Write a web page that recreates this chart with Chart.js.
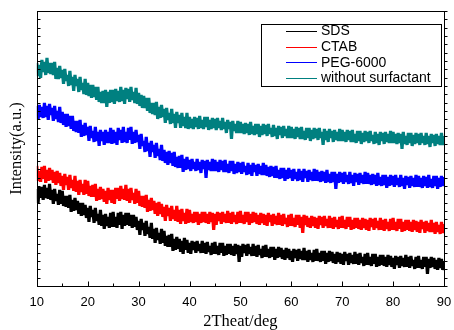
<!DOCTYPE html>
<html>
<head>
<meta charset="utf-8">
<script src="https://cdn.jsdelivr.net/npm/chart.js@4.4.1/dist/chart.umd.min.js"></script>
<style>
  html, body { margin: 0; padding: 0; background: #fff; }
  #wrap { width: 454px; height: 330px; }
</style>
</head>
<body>
<div id="wrap"><canvas id="grafico"></canvas></div>
<script>
// Series labels and colours
const seriesNames = ["SDS", "CTAB", "PEG-6000", "without surfactant"];
const seriesColors = ["#000000", "#ff0000", "#0000ff", "#008080"];

// Intensity (a.u.), one point every 0.25 deg from 10 to 90
const sds = [
  97,83,99,88, 99,86,101,88, 98,87,102,86, 96,82,97,85, 92,81,96,82,
  95,80,90,79, 90,78,91,74, 86,75,88,76, 85,72,83,70, 83,71,81,68,
  78,64,80,69, 76,63,78,65, 72,61,76,60, 71,57,72,60, 69,58,73,59,
  74,59,69,58, 73,61,74,57, 71,60,73,61, 73,60,71,58, 71,59,69,56,
  65,51,67,56, 63,50,65,52, 59,48,63,47, 57,43,58,46, 53,42,57,43,
  55,40,50,39, 51,39,52,35, 47,36,49,37, 47,34,45,32, 48,36,46,33,
  43,32,45,36, 44,33,45,35, 42,33,45,33, 43,32,44,34, 40,31,43,32,
  44,32,40,31, 43,33,43,30, 40,31,42,32, 42,31,40,30, 42,32,41,24,
  40,29,42,33, 41,30,42,32, 39,30,42,30, 40,29,41,31, 37,28,40,29,
  41,29,37,28, 39,29,39,26, 37,28,39,29, 38,27,36,26, 38,28,37,26,
  35,24,37,28, 36,25,37,27, 35,26,38,26, 35,24,36,26, 33,24,36,25,
  37,25,33,24, 35,25,35,22, 33,24,35,25, 34,23,32,22, 34,24,33,22,
  32,21,34,25, 32,21,33,23, 31,22,34,22, 32,21,33,23, 29,20,32,21,
  33,21,29,20, 32,22,32,19, 29,20,31,21, 31,20,29,19, 31,21,30,19,
  28,17,30,21, 29,18,30,20, 28,19,31,19, 29,18,30,20, 26,17,29,18,
  30,18,26,17, 29,19,29,12, 27,18,29,19, 28,17,26,16, 28,18,27,16,
  25
];
const ctab = [
  120,105,115,104, 119,107,120,103, 116,105,118,106, 116,103,114,101, 115,103,113,100,
  110,96,112,101, 109,96,111,98, 106,95,110,94, 105,91,106,94, 102,91,106,92,
  105,90,100,89, 101,89,102,85, 97,86,99,87, 97,84,95,82, 98,86,96,83,
  96,82,98,87, 98,85,100,87, 97,86,101,85, 97,83,98,86, 93,82,97,83,
  95,80,90,79, 90,78,91,74, 86,75,88,76, 85,72,83,70, 84,72,82,69,
  79,65,81,70, 78,65,80,67, 76,65,80,64, 76,62,77,65, 73,62,77,63,
  76,64,72,63, 74,64,74,61, 72,63,74,64, 74,63,72,62, 74,64,73,56,
  72,61,74,65, 73,62,74,64, 72,63,75,63, 73,62,74,64, 71,62,74,63,
  75,63,71,62, 74,64,74,61, 72,63,74,64, 73,62,71,61, 73,63,72,61,
  71,60,73,64, 71,60,72,62, 70,61,73,61, 71,60,72,62, 68,59,71,60,
  72,60,68,59, 71,61,71,58, 69,53,71,61, 70,59,68,58, 70,60,69,58,
  68,57,70,61, 69,58,70,60, 67,58,70,58, 68,57,69,59, 66,57,69,58,
  70,58,66,57, 69,59,69,56, 66,57,68,58, 68,57,66,56, 68,58,67,56,
  66,55,68,59, 67,56,68,58, 65,56,68,56, 66,55,67,57, 64,55,67,56,
  68,56,64,55, 67,57,67,54, 64,55,66,56, 66,55,64,54, 66,56,65,54,
  64,53,66,57, 64,53,65,55, 63,54,66,54, 63,52,64,54, 61,52,64,53,
  62
];
const peg = [
  180,166,181,169, 179,168,183,169, 180,166,182,171, 178,165,180,167, 175,164,179,163,
  174,161,172,159, 172,160,170,157, 170,155,165,154, 165,153,166,149, 161,150,163,151,
  159,145,160,148, 155,144,159,145, 154,140,156,145, 154,141,156,143, 154,143,158,142,
  156,143,154,141, 158,146,156,143, 159,144,154,143, 158,146,159,142, 154,143,156,144,
  151,137,152,140, 145,134,149,135, 143,129,145,134, 141,128,143,130, 137,126,141,125,
  136,123,134,121, 135,123,133,120, 134,119,129,118, 130,118,131,114, 127,116,129,117,
  126,115,127,117, 124,115,127,116, 124,113,126,117, 125,108,126,116, 124,115,127,115,
  126,115,124,114, 126,116,125,114, 126,114,122,113, 125,115,125,112, 122,113,124,114,
  123,112,124,114, 120,111,123,112, 121,110,123,114, 121,110,122,112, 120,111,123,111,
  121,110,119,109, 120,110,119,108, 120,108,116,107, 118,108,118,105, 116,107,118,108,
  116,105,117,107, 114,105,117,106, 115,104,117,108, 115,104,116,106, 114,105,117,105,
  116,105,114,104, 115,105,114,103, 116,104,112,103, 114,104,114,97, 112,103,114,104,
  113,102,114,104, 111,102,114,103, 111,100,113,104, 112,101,113,103, 111,102,114,102,
  113,102,111,101, 112,102,111,100, 113,101,109,100, 111,101,111,98, 109,100,111,101,
  110,99,111,101, 108,99,111,100, 108,97,110,101, 109,98,110,100, 108,99,111,99,
  110,99,108,98, 110,100,109,98, 111,99,107,98, 110,100,110,97, 108,99,110,100,
  109
];
const sinSurf = [
  223,210,221,208, 226,214,224,211, 228,213,223,212, 223,211,224,207, 218,207,220,208,
  216,202,217,205, 211,200,215,201, 209,195,211,200, 207,194,209,196, 203,192,207,191,
  203,190,201,188, 201,189,199,186, 199,184,194,183, 195,183,196,179, 194,183,196,184,
  196,182,197,185, 195,184,199,185, 196,182,198,187, 197,184,199,186, 194,183,198,182,
  193,180,191,178, 190,178,188,175, 188,173,183,172, 183,171,184,167, 179,168,181,169,
  177,163,178,166, 173,162,177,163, 172,158,174,163, 171,158,173,160, 169,158,173,157,
  169,158,167,157, 169,159,168,157, 170,158,166,157, 169,159,169,156, 166,157,168,158,
  167,156,168,158, 165,156,168,157, 164,153,166,157, 164,147,165,155, 162,153,165,153,
  164,153,162,152, 163,153,162,151, 164,152,160,151, 162,152,162,149, 160,151,162,152,
  161,150,162,152, 158,149,161,150, 158,147,160,151, 159,148,160,150, 157,148,160,148,
  159,148,157,147, 159,149,158,147, 159,147,155,146, 158,148,158,145, 156,147,158,148,
  157,146,158,148, 154,141,157,146, 155,144,157,148, 155,144,156,146, 154,145,157,145,
  156,145,154,144, 156,146,155,144, 156,144,152,143, 155,145,155,142, 153,144,155,145,
  154,143,155,145, 151,142,154,143, 152,141,154,145, 153,142,154,144, 152,143,155,143,
  154,143,152,142, 153,143,152,137, 154,142,150,141, 153,143,153,140, 151,142,153,143,
  152,141,153,143, 150,141,153,142, 150,139,152,143, 151,140,152,142, 150,141,153,141,
  150
];

// 2theta sampling grid
const twoTheta = sds.map((_, i) => 10 + i * 0.25);
const xTicks = [10, 20, 30, 40, 50, 60, 70, 80, 90];

function toPoints(values) {
  return values.map((v, i) => ({ x: twoTheta[i], y: v }));
}

// Marco, marcas hacia adentro y leyenda con recuadro
const marcoPlugin = {
  id: "marco",
  afterDraw(chart) {
    const { ctx, chartArea: a, scales } = chart;
    const L = Math.round(a.left) + 0.5, R = Math.round(a.right) + 0.5;
    const T = Math.round(a.top) + 0.5, B = Math.round(a.bottom) + 0.5;
    ctx.save();
    ctx.strokeStyle = "#000";
    ctx.lineWidth = 1;
    ctx.strokeRect(L, T, R - L, B - T);

    ctx.beginPath();
    // bottom ticks: majors every 10, minors every 5
    for (let v = 10; v <= 90; v += 5) {
      const x = Math.round(scales.x.getPixelForValue(v)) + 0.5;
      const len = v % 10 === 0 ? 5 : 3;
      ctx.moveTo(x, B);
      ctx.lineTo(x, B - len);
    }
    // left and right ticks
    for (let k = 0; k <= 33; k++) {
      const y = Math.round(scales.y.getPixelForValue(k * 275 / 33)) + 0.5;
      ctx.moveTo(L, y);
      ctx.lineTo(L + 3, y);
      ctx.moveTo(R, y);
      ctx.lineTo(R + 3, y);
    }
    ctx.stroke();

    // legend box
    const bx = 261.5, by = 24.5, bw = 180, bh = 62;
    ctx.fillStyle = "#fff";
    ctx.fillRect(bx, by, bw, bh);
    ctx.strokeRect(bx, by, bw, bh);
    ctx.font = "14px 'Liberation Sans', Arial, sans-serif";
    ctx.textBaseline = "middle";
    chart.data.datasets.forEach((ds, i) => {
      const y = 31 + i * 15.6;
      ctx.strokeStyle = ds.borderColor;
      ctx.beginPath();
      ctx.moveTo(286, Math.round(y) + 0.5);
      ctx.lineTo(317, Math.round(y) + 0.5);
      ctx.stroke();
      ctx.fillStyle = "#000";
      ctx.fillText(ds.label, 321, y + 0.5);
    });
    ctx.restore();
  }
};

const datasets = [sds, ctab, peg, sinSurf].map((values, i) => ({
  label: seriesNames[i],
  data: toPoints(values),
  borderColor: seriesColors[i],
  borderWidth: 3.2,
  borderJoinStyle: "bevel",
  pointRadius: 0,
  tension: 0
}));

new Chart(document.getElementById("grafico"), {
  type: "line",
  data: { datasets },
  plugins: [marcoPlugin],
  options: {
    responsive: true,
    maintainAspectRatio: false,
    animation: false,
    layout: { padding: { top: 11, right: 10, left: 0, bottom: 0 } },
    plugins: {
      legend: { display: false },
      tooltip: { enabled: false }
    },
    scales: {
      x: {
        type: "linear",
        min: 10,
        max: 90,
        afterBuildTicks: (axis) => { axis.ticks = xTicks.map(v => ({ value: v })); },
        grid: { display: false, drawTicks: true, tickLength: 8 },
        border: { display: false },
        ticks: {
          padding: 1,
          color: "#000",
          font: { family: "'Liberation Sans', Arial, sans-serif", size: 13 }
        },
        title: {
          display: true,
          text: "2Theat/deg",
          color: "#000",
          padding: { top: 2, bottom: 0 },
          font: { family: "'Liberation Serif', 'Times New Roman', serif", size: 16.5, lineHeight: 1 }
        }
      },
      y: {
        min: 0,
        max: 275,
        grid: { display: false, drawTicks: false },
        border: { display: false },
        ticks: { display: false },
        title: {
          display: true,
          text: "Intensity(a.u.)",
          color: "#000",
          padding: { top: 7, bottom: 10 },
          font: { family: "'Liberation Serif', 'Times New Roman', serif", size: 16.5, lineHeight: 1.2 }
        }
      }
    }
  }
});
</script>
</body>
</html>
